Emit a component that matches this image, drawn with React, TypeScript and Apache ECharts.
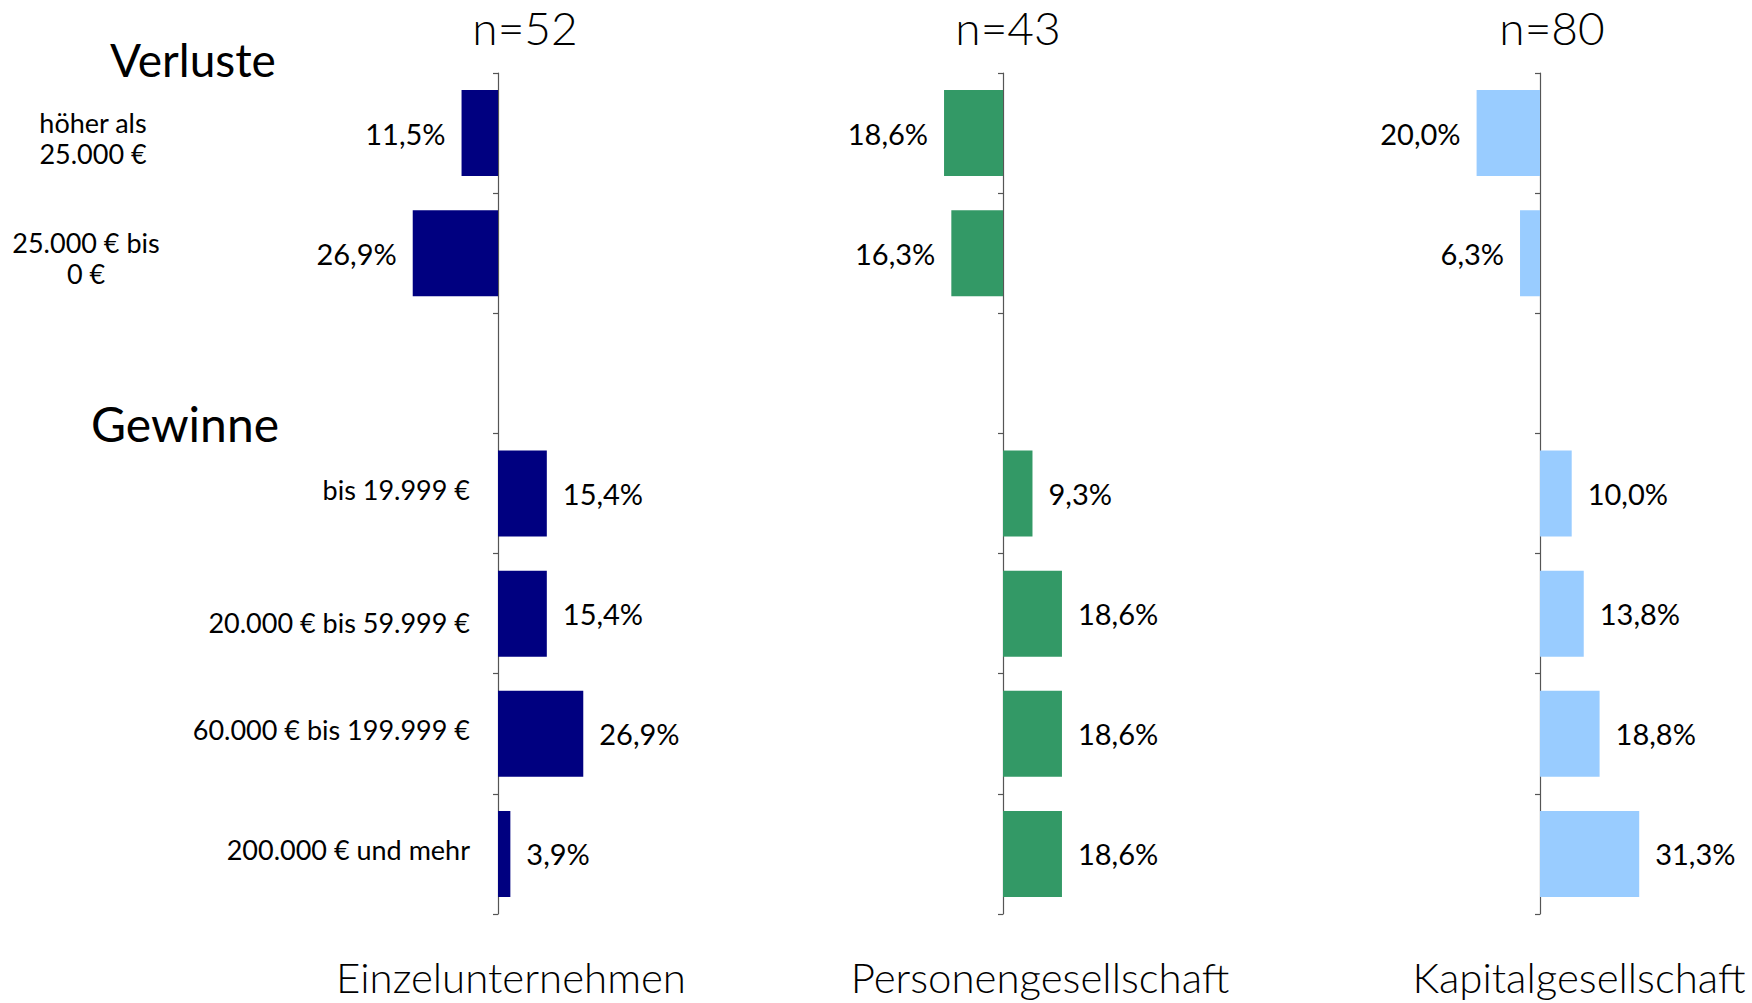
import React, { useEffect, useRef } from "react";
import * as echarts from "echarts";

const categories = [
  "höher als\n25.000 €",
  "25.000 € bis\n0 €",
  "",
  "bis 19.999 €",
  "20.000 € bis 59.999 €",
  "60.000 € bis 199.999 €",
  "200.000 € und mehr",
];

const einzelLosses = [11.5, 26.9];
const einzelGains = [15.4, 15.4, 26.9, 3.9];
const personenLosses = [18.6, 16.3];
const personenGains = [9.3, 18.6, 18.6, 18.6];
const kapitalLosses = [20.0, 6.3];
const kapitalGains = [10.0, 13.8, 18.8, 31.3];

const sampleSizes = ["n=52", "n=43", "n=80"];
const panelNames = ["Einzelunternehmen", "Personengesellschaft", "Kapitalgesellschaft"];
const sectionTitles = ["Verluste", "Gewinne"];

const FONT = "Lato, 'Noto Sans', sans-serif";

export default function App() {
  const ref = useRef<HTMLDivElement>(null);

  useEffect(() => {
    if (!ref.current) return;
    const chart = echarts.init(ref.current, null, { renderer: "svg" });

    const panels = [
      { losses: einzelLosses, gains: einzelGains, color: "#000080", axisX: 498, nX: 525, nameX: 506 },
      { losses: personenLosses, gains: personenGains, color: "#339966", axisX: 1003, nX: 1008, nameX: 1035 },
      { losses: kapitalLosses, gains: kapitalGains, color: "#99ccff", axisX: 1540, nX: 1552, nameX: 1574 },
    ];

    const pxPerUnit = 3.17;
    const xMin = -30;
    const xMax = 35;

    const grids = panels.map((p) => ({
      left: p.axisX + xMin * pxPerUnit,
      width: (xMax - xMin) * pxPerUnit,
      top: 73,
      height: 841,
      containLabel: false,
      outerBoundsMode: "none",
    }));

    const xAxes = panels.map((_, i) => ({
      type: "value" as const,
      gridIndex: i,
      min: xMin,
      max: xMax,
      show: false,
      splitLine: { show: false },
    }));

    const LBL = 27;
    const base = { fontSize: LBL, fontFamily: FONT, color: "#000" };
    const yAxes = panels.map((_, i) => ({
      type: "category" as const,
      gridIndex: i,
      data: categories,
      inverse: true,
      axisLine: { show: true, onZero: true, lineStyle: { color: "#555", width: 1.2 } },
      axisTick: { show: true, length: 5, lineStyle: { color: "#555", width: 1.2 } },
      axisLabel: {
        show: i === 0,
        margin: 28 + xMin * pxPerUnit,
        color: "#000",
        fontFamily: FONT,
        fontSize: LBL,
        lineHeight: 31,
        formatter: (value: string, idx: number) => {
          if (!value) return "";
          if (idx < 2) {
            const lines = value.split("\n");
            return lines
              .map((l, k) => `{loss${idx}${k === 0 ? "t" : ""}|${l}}`)
              .join("\n");
          }
          if (idx === 4) return `{gainDown|${value}}`;
          return `{gain|${value}}`;
        },
        rich: {
          loss0t: { ...base, width: 754, align: "center", lineHeight: 36, verticalAlign: "bottom" },
          loss0: { ...base, width: 754, align: "center", lineHeight: 31, verticalAlign: "bottom" },
          loss1t: { ...base, width: 768, align: "center", lineHeight: 36, verticalAlign: "bottom" },
          loss1: { ...base, width: 768, align: "center", lineHeight: 31, verticalAlign: "bottom" },
          gain: { ...base, height: 24, lineHeight: 24, padding: [0, 0, 9, 0] },
          gainDown: { ...base, height: 24, lineHeight: 24, padding: [18, 0, 0, 0] },
        },
      },
      splitLine: { show: false },
    }));

    const fmt = (v: number) => Math.abs(v).toFixed(1).replace(".", ",") + "%";

    const series = panels.map((p, i) => {
      const values: (number | null)[] = [
        ...p.losses.map((v) => -v),
        null,
        ...p.gains,
      ];
      return {
        type: "bar" as const,
        xAxisIndex: i,
        yAxisIndex: i,
        barWidth: 86,
        itemStyle: { color: p.color },
        data: values.map((v) =>
          v === null
            ? null
            : {
                value: v,
                label: { position: v < 0 ? "left" : "right" },
              }
        ),
        label: {
          show: true,
          distance: 16,
          color: "#000",
          fontFamily: FONT,
          fontSize: 29,
          formatter: (params: any) => fmt(params.value as number),
        },
      };
    });

    const titles: any[] = [];
    panels.forEach((p, i) => {
      titles.push({
        text: sampleSizes[i],
        left: p.nX,
        top: 4,
        textAlign: "center",
        textStyle: { fontFamily: FONT, fontSize: 46, fontWeight: 300, color: "#000", lineHeight: 46 },
        padding: 0,
      });
      titles.push({
        text: panelNames[i],
        left: p.nameX,
        top: 951,
        textAlign: "center",
        textStyle: { fontFamily: FONT, fontSize: 42, fontWeight: 300, color: "#000" },
      });
    });
    titles.push({
      text: sectionTitles[0],
      left: 188,
      top: 31,
      textAlign: "center",
      textStyle: { fontFamily: FONT, fontSize: 46, fontWeight: 400, color: "#000" },
    });
    titles.push({
      text: sectionTitles[1],
      left: 180,
      top: 394,
      textAlign: "center",
      textStyle: { fontFamily: FONT, fontSize: 48, fontWeight: 400, color: "#000" },
    });

    chart.setOption({
      animation: false,
      backgroundColor: "#fff",
      title: titles,
      grid: grids,
      xAxis: xAxes,
      yAxis: yAxes,
      series,
    });

    return () => chart.dispose();
  }, []);

  return (
    <div
      ref={ref}
      style={{ position: "fixed", left: 0, top: 0, width: 1752, height: 1003 }}
    />
  );
}
